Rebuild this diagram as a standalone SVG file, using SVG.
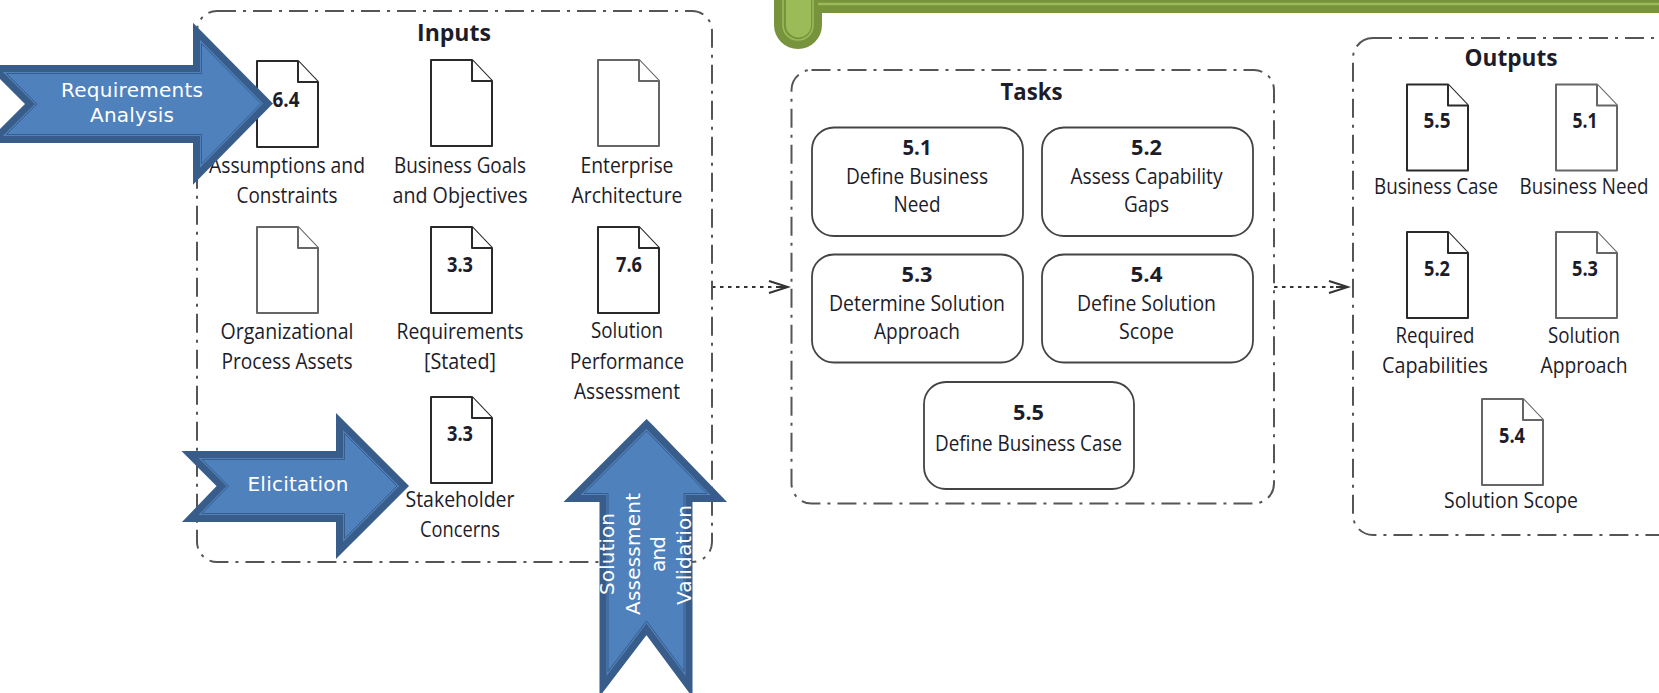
<svg xmlns="http://www.w3.org/2000/svg" width="1659" height="693" viewBox="0 0 1659 693">
<style>
text{font-family:"Open Sans","Noto Sans","Liberation Sans",sans-serif;text-anchor:middle;fill:#1c1c2a}
.l{font-size:21px}
.b{font-size:23px;font-weight:700}
.n{font-size:21px;font-weight:700}
.w{font-family:"DejaVu Sans","Open Sans",sans-serif;font-size:20px;fill:#fff}
.box{fill:none;stroke:#555;stroke-width:2;stroke-dasharray:19 7 3 7}
.doc{fill:#fff;stroke:#2a2a2a;stroke-width:2;stroke-linejoin:round}
.doc2{stroke:#666}
.task{fill:#fff;stroke:#444;stroke-width:1.8}
.c{fill:none;stroke:#333;stroke-width:2;stroke-dasharray:3.5 4.5;marker-end:url(#open)}
.a1{fill:#385D8A;stroke:#385D8A;stroke-width:17;stroke-linejoin:miter;stroke-miterlimit:10}
.a2{fill:#4F81BD;stroke:#4F81BD;stroke-width:3;stroke-linejoin:miter;stroke-miterlimit:10}
.a3{fill:none;stroke:#385D8A;stroke-width:1;stroke-linejoin:miter;stroke-miterlimit:10}
</style>
<defs>
<marker id="open" markerUnits="userSpaceOnUse" markerWidth="24" markerHeight="18" refX="21" refY="9" orient="auto"><path d="M2 3L21 9L2 15M9 9H20" fill="none" stroke="#333" stroke-width="2"/></marker>
<g id="d"><path d="M0 0H41L61 21V86H0Z"/><path d="M41 0V21H61"/></g>
<polygon id="p1" points="6.5,73.5 201.5,73.5 201.5,43.5 261,103.5 201.5,164 201.5,134.5 6.5,134.5 37,104"/>
<polygon id="p2" points="202,459.5 344.5,459.5 344.5,433.5 397,486 344.5,538.5 344.5,513.5 202,513.5 228.5,486"/>
<polygon id="p3" points="646.5,431 707,493.5 684,493.5 684,671.5 646.5,621 608,671.5 608,493.5 584,493.5"/>
</defs>

<g id="banner">
<path d="M774 -5V25a24 24 0 0 0 48 0V13H1664V-5Z" fill="#77933C"/>
<path d="M786 -5V25a12.500 12.500 0 0 0 25 0V-5Z" fill="#9BBB59"/>
<path d="M783 -5V25a15 15 0 0 0 30 0V-5" fill="none" stroke="#9BBB59" stroke-width="1.6"/>
<path d="M818 4H1664" stroke="#9BBB59" stroke-width="2.4" fill="none"/>
</g>

<g id="connectors">
<path class="c" d="M712 287H788"/>
<path class="c" d="M1274 287H1348"/>
</g>

<g id="inputs">
<rect class="box" x="197" y="11" width="515" height="551" rx="20"/>
<text class="b" x="454" y="41" textLength="74" lengthAdjust="spacingAndGlyphs">Inputs</text>
</g>
<g id="doc-assumptions"><use href="#d" class="doc" transform="translate(257 61)"/>
<text class="n" x="286" y="107" textLength="27" lengthAdjust="spacingAndGlyphs">6.4</text>
<text class="l" x="287" y="172.500" textLength="156" lengthAdjust="spacingAndGlyphs">Assumptions and</text>
<text class="l" x="287" y="203" textLength="101" lengthAdjust="spacingAndGlyphs">Constraints</text></g>
<g id="doc-goals"><use href="#d" class="doc" transform="translate(431 60)"/>
<text class="l" x="460" y="172.500" textLength="132" lengthAdjust="spacingAndGlyphs">Business Goals</text>
<text class="l" x="460" y="203" textLength="135" lengthAdjust="spacingAndGlyphs">and Objectives</text></g>
<g id="doc-enterprise"><use href="#d" class="doc doc2" transform="translate(598 60)"/>
<text class="l" x="627" y="172.500" textLength="93" lengthAdjust="spacingAndGlyphs">Enterprise</text>
<text class="l" x="627" y="203" textLength="111" lengthAdjust="spacingAndGlyphs">Architecture</text></g>
<g id="doc-org"><use href="#d" class="doc doc2" transform="translate(257 227)"/>
<text class="l" x="287" y="338.500" textLength="133" lengthAdjust="spacingAndGlyphs">Organizational</text>
<text class="l" x="287" y="368.500" textLength="131" lengthAdjust="spacingAndGlyphs">Process Assets</text></g>
<g id="doc-req"><use href="#d" class="doc" transform="translate(431 227)"/>
<text class="n" x="460" y="272" textLength="26" lengthAdjust="spacingAndGlyphs">3.3</text>
<text class="l" x="460" y="338.500" textLength="127" lengthAdjust="spacingAndGlyphs">Requirements</text>
<text class="l" x="460" y="368.500" textLength="72" lengthAdjust="spacingAndGlyphs">[Stated]</text></g>
<g id="doc-perf"><use href="#d" class="doc" transform="translate(598 227)"/>
<text class="n" x="629" y="272" textLength="26" lengthAdjust="spacingAndGlyphs">7.6</text>
<text class="l" x="627" y="338" textLength="72" lengthAdjust="spacingAndGlyphs">Solution</text>
<text class="l" x="627" y="368.500" textLength="114" lengthAdjust="spacingAndGlyphs">Performance</text>
<text class="l" x="627" y="399" textLength="106" lengthAdjust="spacingAndGlyphs">Assessment</text></g>
<g id="doc-stake"><use href="#d" class="doc" transform="translate(431 397)"/>
<text class="n" x="460" y="441" textLength="26" lengthAdjust="spacingAndGlyphs">3.3</text>
<text class="l" x="460" y="506.500" textLength="109" lengthAdjust="spacingAndGlyphs">Stakeholder</text>
<text class="l" x="460" y="536.500" textLength="80" lengthAdjust="spacingAndGlyphs">Concerns</text></g>

<g id="tasks">
<rect class="box" x="791.500" y="70" width="482.500" height="433.500" rx="20"/>
<text class="b" x="1031.500" y="100" textLength="62" lengthAdjust="spacingAndGlyphs">Tasks</text>
</g>
<g id="task-51"><rect class="task" x="812" y="127.500" width="211" height="108.500" rx="22"/>
<text class="n" x="917" y="155" textLength="29" lengthAdjust="spacingAndGlyphs">5.1</text>
<text class="l" x="917" y="184" textLength="142" lengthAdjust="spacingAndGlyphs">Define Business</text>
<text class="l" x="917" y="212" textLength="47" lengthAdjust="spacingAndGlyphs">Need</text></g>
<g id="task-52"><rect class="task" x="1042" y="127.500" width="211" height="108.500" rx="22"/>
<text class="n" x="1146.500" y="155" textLength="31" lengthAdjust="spacingAndGlyphs">5.2</text>
<text class="l" x="1146.500" y="184" textLength="152" lengthAdjust="spacingAndGlyphs">Assess Capability</text>
<text class="l" x="1146.500" y="212" textLength="45" lengthAdjust="spacingAndGlyphs">Gaps</text></g>
<g id="task-53"><rect class="task" x="812" y="254.500" width="211" height="108" rx="22"/>
<text class="n" x="917" y="282" textLength="31" lengthAdjust="spacingAndGlyphs">5.3</text>
<text class="l" x="917" y="311" textLength="176" lengthAdjust="spacingAndGlyphs">Determine Solution</text>
<text class="l" x="917" y="339" textLength="86" lengthAdjust="spacingAndGlyphs">Approach</text></g>
<g id="task-54"><rect class="task" x="1042" y="254.500" width="211" height="108" rx="22"/>
<text class="n" x="1146.500" y="282" textLength="32" lengthAdjust="spacingAndGlyphs">5.4</text>
<text class="l" x="1146.500" y="311" textLength="139" lengthAdjust="spacingAndGlyphs">Define Solution</text>
<text class="l" x="1146.500" y="339" textLength="55" lengthAdjust="spacingAndGlyphs">Scope</text></g>
<g id="task-55"><rect class="task" x="924" y="382" width="210" height="107" rx="22"/>
<text class="n" x="1028.500" y="420" textLength="31" lengthAdjust="spacingAndGlyphs">5.5</text>
<text class="l" x="1028.500" y="451" textLength="187" lengthAdjust="spacingAndGlyphs">Define Business Case</text></g>

<g id="outputs">
<rect class="box" x="1353" y="38" width="340" height="497" rx="20"/>
<text class="b" x="1511" y="66" textLength="93" lengthAdjust="spacingAndGlyphs">Outputs</text>
</g>
<g id="out-55"><use href="#d" class="doc" transform="translate(1407 84.500)"/>
<text class="n" x="1437" y="128" textLength="27" lengthAdjust="spacingAndGlyphs">5.5</text>
<text class="l" x="1436" y="194" textLength="124" lengthAdjust="spacingAndGlyphs">Business Case</text></g>
<g id="out-51"><use href="#d" class="doc doc2" transform="translate(1556 84.500)"/>
<text class="n" x="1585" y="128" textLength="25" lengthAdjust="spacingAndGlyphs">5.1</text>
<text class="l" x="1584" y="194" textLength="129" lengthAdjust="spacingAndGlyphs">Business Need</text></g>
<g id="out-52"><use href="#d" class="doc" transform="translate(1407 232)"/>
<text class="n" x="1437" y="276" textLength="26" lengthAdjust="spacingAndGlyphs">5.2</text>
<text class="l" x="1435" y="343" textLength="79" lengthAdjust="spacingAndGlyphs">Required</text>
<text class="l" x="1435" y="373" textLength="106" lengthAdjust="spacingAndGlyphs">Capabilities</text></g>
<g id="out-53"><use href="#d" class="doc doc2" transform="translate(1556 232)"/>
<text class="n" x="1585" y="276" textLength="26" lengthAdjust="spacingAndGlyphs">5.3</text>
<text class="l" x="1584" y="343" textLength="72" lengthAdjust="spacingAndGlyphs">Solution</text>
<text class="l" x="1584" y="373" textLength="87" lengthAdjust="spacingAndGlyphs">Approach</text></g>
<g id="out-54"><use href="#d" class="doc doc2" transform="translate(1482 399)"/>
<text class="n" x="1512" y="443" textLength="26" lengthAdjust="spacingAndGlyphs">5.4</text>
<text class="l" x="1511" y="508" textLength="134" lengthAdjust="spacingAndGlyphs">Solution Scope</text></g>

<g id="arrow-requirements">
<use href="#p1" class="a1"/><use href="#p1" class="a2"/><use href="#p1" class="a3"/>
<text class="w" x="132" y="97" textLength="142">Requirements</text>
<text class="w" x="132" y="122" textLength="84">Analysis</text>
</g>
<g id="arrow-elicitation">
<use href="#p2" class="a1"/><use href="#p2" class="a2"/><use href="#p2" class="a3"/>
<text class="w" x="298" y="491" textLength="101">Elicitation</text>
</g>
<g id="arrow-solution">
<use href="#p3" class="a1"/><use href="#p3" class="a2"/><use href="#p3" class="a3"/>
<text class="w" transform="translate(613.500 554) rotate(-90)" textLength="82">Solution</text>
<text class="w" transform="translate(639.500 554) rotate(-90)" textLength="122">Assessment</text>
<text class="w" transform="translate(665 554) rotate(-90)" textLength="36">and</text>
<text class="w" transform="translate(691 555) rotate(-90)" textLength="100">Validation</text>
</g>
</svg>
